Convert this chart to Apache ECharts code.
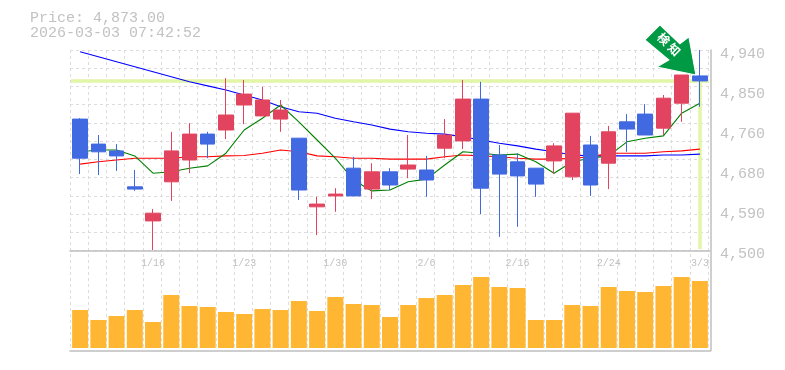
<!DOCTYPE html>
<html><head><meta charset="utf-8">
<style>html,body{margin:0;padding:0;background:#fff}#c{width:785px;height:370px}</style>
<script src="https://cdn.jsdelivr.net/npm/echarts@6/dist/echarts.min.js"></script>
</head><body><div id="c"></div>
<script>
const priceText = 'Price: 4,873.00';
const timeText = '2026-03-03 07:42:52';
const lastPrice = 4873;
const dates = ['1/9','1/13','1/14','1/15','1/16','1/19','1/20','1/21','1/22','1/23','1/26','1/27','1/28','1/29','1/30','2/2','2/3','2/4','2/5','2/6','2/9','2/10','2/12','2/13','2/16','2/17','2/18','2/19','2/20','2/24','2/25','2/26','2/27','3/2','3/3'];
const shownDates = ['1/16','1/23','1/30','2/6','2/16','2/24','3/3'];
const yTickValues = [4500,4588,4676,4764,4852,4940];
const yTickLabels = ['4,500','4,590','4,680','4,760','4,850','4,940'];
const open  = [4788,4733,4718,4639,4564,4650,4698,4755,4764,4819,4795,4788,4746,4595,4619,4680,4634,4672,4678,4676,4724,4740,4832,4709,4694,4680,4696,4661,4731,4691,4782,4799,4768,4823,4883];
const close = [4702,4716,4707,4634,4581,4718,4755,4733,4797,4843,4830,4808,4632,4601,4623,4619,4672,4643,4687,4654,4753,4832,4636,4667,4663,4645,4729,4801,4643,4760,4766,4753,4834,4885,4872];
const high  = [4790,4753,4733,4676,4590,4760,4779,4760,4878,4874,4859,4830,4746,4617,4636,4705,4691,4680,4753,4707,4788,4874,4870,4731,4713,4680,4735,4801,4751,4773,4799,4821,4841,4885,4940];
const low   = [4667,4665,4674,4630,4500,4608,4669,4702,4744,4777,4795,4760,4610,4533,4584,4619,4612,4632,4658,4617,4702,4722,4579,4529,4551,4617,4667,4654,4619,4634,4716,4753,4753,4782,4815];
const maShort = [4716,4720,4720,4707,4669,4672,4680,4685,4713,4764,4790,4819,4782,4742,4702,4654,4630,4632,4650,4656,4687,4716,4713,4709,4711,4694,4669,4694,4702,4707,4738,4746,4751,4801,4823];
const maMid = [4689,4694,4698,4702,4702,4702,4705,4705,4707,4708,4713,4720,4716,4707,4705,4702,4702,4700,4700,4700,4705,4709,4707,4705,4702,4700,4700,4702,4705,4713,4713,4713,4716,4718,4722];
const maLong = [4936,4925,4914,4903,4892,4881,4870,4861,4852,4841,4830,4815,4804,4801,4790,4782,4775,4766,4760,4757,4755,4749,4742,4735,4729,4722,4716,4709,4707,4707,4707,4707,4709,4709,4711];
const volume = [380,280,320,380,260,530,420,410,360,340,390,380,470,370,510,440,430,310,430,500,530,630,710,610,600,280,280,430,420,610,570,560,620,710,670];

const mono = 'Liberation Mono';
const grey = '#c2c2c2';
const ruleColor = '#bfbfbf';
const dash = {type:[3,3],color:'#dcdcdc',width:1};
const hiddenAxis = {axisLine:{show:false},axisTick:{show:false},axisLabel:{show:false},splitLine:{show:false}};
const rule = {axisTick:{show:false},axisLabel:{show:false},splitLine:{show:false},axisLine:{show:true,onZero:false,lineStyle:{color:ruleColor,width:1.5}}};
const chart = echarts.init(document.getElementById('c'),null,{renderer:'canvas'});
const candle = dates.map((d,i)=>[open[i],close[i],low[i],high[i]]);
const lineSeries = (name,data,color)=>({name,type:'line',data,xAxisIndex:0,yAxisIndex:0,symbol:'none',z:3,silent:true,lineStyle:{color,width:1.1}});
const arrowPath = 'path://M15,0 L35,19 L44,12 L51,50 L12,42 L24,35 L0,15 Z';

chart.setOption({
  animation:false,
  backgroundColor:'#fff',
  title:{text:priceText+'\n'+timeText,left:30,top:11,padding:0,textStyle:{fontFamily:mono,fontSize:15,fontWeight:'normal',color:grey,lineHeight:15}},
  grid:[
    {left:71,width:638,top:50,height:200,show:false},   // price
    {left:71,width:638,top:250,height:100,show:false},  // volume
    {left:70,width:638,top:50,height:300,show:false},   // vertical dashed rules
    {left:70,width:640.5,top:50,height:300.5,show:false}, // outer frame
    {left:70,width:640,top:50,height:200.5,show:false}, // horizontal dashed rules, middle rule
    {left:71,width:638,top:54,height:200,show:false}    // price tick labels
  ],
  xAxis:[
    {type:'category',gridIndex:0,data:dates,boundaryGap:true,axisLine:{show:false},axisTick:{show:false},splitLine:{show:false},
     axisLabel:{interval:(i,v)=>shownDates.includes(v),fontFamily:mono,fontSize:10,color:grey,margin:8,hideOverlap:false}},
    {type:'category',gridIndex:1,data:dates,boundaryGap:true,...hiddenAxis},
    {type:'category',gridIndex:2,data:dates,boundaryGap:true,axisLine:{show:false},axisTick:{show:false},axisLabel:{show:false},
     splitLine:{show:true,interval:0,lineStyle:dash},z:0},
    {type:'value',gridIndex:3,min:0,max:1,position:'bottom',...rule},
    {type:'value',gridIndex:4,min:0,max:1,position:'bottom',...rule},
    {type:'category',gridIndex:5,data:dates,...hiddenAxis}
  ],
  yAxis:[
    {type:'value',gridIndex:0,min:4500,max:4940,...hiddenAxis},
    {type:'value',gridIndex:1,min:-20,max:980,...hiddenAxis},
    {type:'value',gridIndex:2,min:0,max:1,...hiddenAxis},
    {type:'value',gridIndex:3,min:0,max:1,position:'right',...rule},
    {type:'value',gridIndex:4,min:0,max:11,interval:1,axisLine:{show:false},axisTick:{show:false},axisLabel:{show:false},splitLine:{show:true,lineStyle:dash}},
    {type:'value',gridIndex:5,min:4500,max:4940,position:'right',axisLine:{show:false},axisTick:{show:false},splitLine:{show:false},
     axisLabel:{customValues:yTickValues,formatter:v=>yTickLabels[yTickValues.indexOf(v)],fontFamily:mono,fontSize:15,color:grey,margin:11}}
  ],
  series:[
    lineSeries('MA long',maLong,'#0000ff'),
    lineSeries('MA mid',maMid,'#ff0000'),
    lineSeries('MA short',maShort,'#008000'),
    {type:'candlestick',name:'price',xAxisIndex:0,yAxisIndex:0,data:candle,barWidth:15,z:4,silent:true,
     itemStyle:{color:'#e2445f',color0:'#4169e1',borderColor:'#e2445f',borderColor0:'#4169e1',borderWidth:1},
     markLine:{silent:true,symbol:'none',z:2,label:{show:false},animation:false,lineStyle:{type:'solid',color:'#e3f5a6',width:3.5},
       data:[{yAxis:lastPrice},
             [{coord:[dates[34],lastPrice]},{coord:[dates[34],4502]}]]},
     markPoint:{silent:true,z:6,data:[{coord:[dates[34],lastPrice],symbol:arrowPath,symbolSize:[51,50],symbolKeepAspect:false,symbolOffset:[-29.5,-30.5],
       itemStyle:{color:'#009944',borderColor:'#fff',borderWidth:1},
       label:{show:true,formatter:'検 知',color:'#fff',fontFamily:'Noto Sans CJK JP',fontWeight:'bold',fontSize:12,rotate:-45,position:'inside',offset:[-5,-3]}}]}},
    {type:'bar',name:'volume',xAxisIndex:1,yAxisIndex:1,data:volume,barWidth:16,z:3,silent:true,itemStyle:{color:'#ffb733'}}
  ]
});
</script></body></html>
